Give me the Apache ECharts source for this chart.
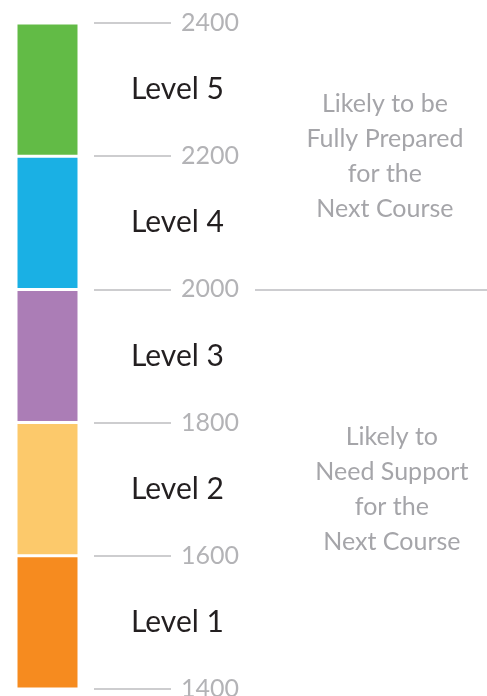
<!DOCTYPE html>
<html>
<head>
<meta charset="utf-8">
<style>
  html, body { margin: 0; padding: 0; background: #fff; }
  #chart { width: 487px; height: 696px; }
</style>
<script src="https://cdn.jsdelivr.net/npm/echarts@6/dist/echarts.min.js"></script>
</head>
<body>
<div id="chart"></div>
<script>
// performance levels (bottom to top)
const levels = ['Level 1', 'Level 2', 'Level 3', 'Level 4', 'Level 5'];
const levelLow = [1400, 1600, 1800, 2000, 2200];
const levelHigh = [1600, 1800, 2000, 2200, 2400];
const levelColors = ['#f68b1f', '#fcc96b', '#ab7db6', '#1ab0e4', '#62bb46'];

// score axis
const scoreMin = 1400;
const scoreMax = 2400;
const scoreStep = 200;

// cut line and the two band notes
const cutScore = 2000;
const noteTexts = [
  'Likely to be\nFully Prepared\nfor the\nNext Course',
  'Likely to\nNeed Support\nfor the\nNext Course',
];
const noteScores = [2200, 1700];
const notePos = [0.56, 0.59];

const font = 'Lato, "Open Sans", sans-serif';
const chart = echarts.init(document.getElementById('chart'));

// stacked bar: invisible base then one series per level
let series = [
  {
    type: 'bar',
    stack: 'lv',
    data: [levelLow[0]],
    itemStyle: { color: 'transparent' },
    silent: true,
  },
];
levels.forEach((name, i) => {
  series.push({
    name,
    type: 'bar',
    stack: 'lv',
    barWidth: '100%',
    data: [levelHigh[i] - levelLow[i]],
    itemStyle: {
      color: levelColors[i],
      borderColor: '#fff',
      borderWidth: 1.5,
    },
    label: {
      show: true,
      position: 'right',
      distance: 52,
      formatter: name,
      color: '#231f20',
      fontSize: 30,
      fontFamily: font,
    },
  });
});

// right side notes + cut line
series.push({
  type: 'scatter',
  xAxisIndex: 1,
  yAxisIndex: 1,
  symbolSize: 0,
  data: noteScores.map((v, i) => [notePos[i], v]),
  label: {
    show: true,
    position: 'inside',
    formatter: (p) => noteTexts[p.dataIndex],
    color: '#8e8e93',
    fontSize: 25,
    lineHeight: 35,
    align: 'center',
    fontFamily: font,
  },
  markLine: {
    silent: true,
    symbol: 'none',
    label: { show: false },
    lineStyle: { color: '#bdbdc0', width: 1.5, type: 'solid' },
    data: [{ yAxis: cutScore }],
  },
});

chart.setOption({
  animation: false,
  grid: [
    { left: 16, width: 63, top: 23, bottom: 7, outerBoundsMode: 'none' },
    { left: 255, right: 0, top: 23, bottom: 7, outerBoundsMode: 'none' },
  ],
  xAxis: [
    { type: 'category', data: ['score'], show: false, gridIndex: 0 },
    { type: 'value', min: 0, max: 1, show: false, gridIndex: 1 },
  ],
  yAxis: [
    {
      type: 'value',
      gridIndex: 0,
      min: scoreMin,
      max: scoreMax,
      interval: scoreStep,
      position: 'right',
      offset: 15,
      axisLine: { show: false },
      axisTick: {
        show: true,
        length: 77,
        lineStyle: { color: '#bdbdc0', width: 1.5 },
      },
      axisLabel: {
        color: '#b3b3b6',
        fontSize: 25,
        margin: 87,
        formatter: (v) => String(v),
        fontFamily: font,
      },
      splitLine: { show: false },
    },
    {
      type: 'value',
      gridIndex: 1,
      min: scoreMin,
      max: scoreMax,
      show: false,
    },
  ],
  series,
});
</script>
</body>
</html>
